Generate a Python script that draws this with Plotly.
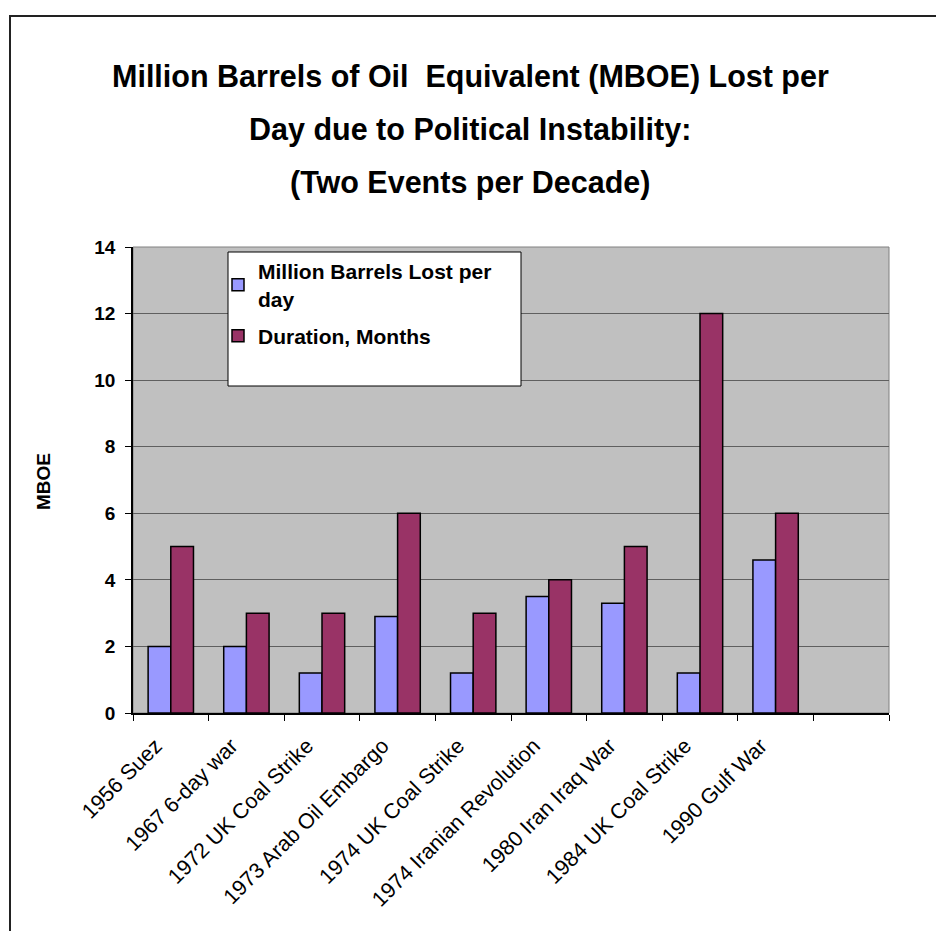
import plotly.graph_objects as go

# Disruption events and their impact
events = [
    "1956 Suez",
    "1967 6-day war",
    "1972 UK Coal Strike",
    "1973 Arab Oil Embargo",
    "1974 UK Coal Strike",
    "1974 Iranian Revolution",
    "1980 Iran Iraq War",
    "1984 UK Coal Strike",
    "1990 Gulf War",
]
barrels_lost = [2.0, 2.0, 1.2, 2.9, 1.2, 3.5, 3.3, 1.2, 4.6]
duration_months = [5, 3, 3, 6, 3, 4, 5, 12, 6]

# an empty trailing slot on the category axis
category_order = events + [" "]

FONT = "Liberation Sans, Arial, sans-serif"

fig = go.Figure()
fig.add_trace(go.Bar(
    x=events, y=barrels_lost,
    name="Million Barrels Lost per<br>day",
    legendgroup="barrels",
    marker=dict(color="#9999FF", line=dict(color="black", width=1.5)),
))
fig.add_trace(go.Bar(
    x=events, y=duration_months,
    name="Duration, Months",
    legendgroup="duration",
    marker=dict(color="#993366", line=dict(color="black", width=1.5)),
))

# plot-area geometry in pixels (used to convert to paper coordinates)
PL, PR, PT, PB = 133, 889, 247, 713
def px(x):
    return (x - PL) / (PR - PL)
def py(y):
    return (PB - y) / (PB - PT)

shapes = [
    # outer frame
    dict(type="rect", xref="paper", yref="paper",
         x0=px(10), x1=px(945), y0=py(16), y1=py(945),
         line=dict(color="#222222", width=2), fillcolor="rgba(0,0,0,0)", layer="below"),
    # plot area border
    dict(type="rect", xref="paper", yref="paper", x0=0, x1=1, y0=0, y1=1,
         line=dict(color="#808080", width=1), fillcolor="rgba(0,0,0,0)", layer="below"),
    # legend box
    dict(type="rect", xref="paper", yref="paper",
         x0=px(228), x1=px(521), y0=py(252), y1=py(386),
         line=dict(color="black", width=1), fillcolor="white", layer="above"),
]

title_lines = [
    "Million Barrels of Oil  Equivalent (MBOE) Lost per",
    "Day due to Political Instability:",
    "(Two Events per Decade)",
]
annotations = []
for line, yc in zip(title_lines, [77, 130, 183]):
    annotations.append(dict(
        text="<b>" + line + "</b>", xref="paper", yref="paper",
        x=px(470), y=py(yc), xanchor="center", yanchor="middle",
        showarrow=False, font=dict(family=FONT, size=30.5, color="black"),
    ))
annotations.append(dict(
    text="<b>MBOE</b>", xref="paper", yref="paper",
    x=px(43), y=py(482), xanchor="center", yanchor="middle", textangle=-90,
    showarrow=False, font=dict(family=FONT, size=19, color="black"),
))

fig.update_layout(
    width=936, height=931,
    margin=dict(l=PL, r=936 - PR, t=PT, b=931 - PB),
    paper_bgcolor="white",
    plot_bgcolor="#C0C0C0",
    barmode="group",
    bargap=0.4,
    bargroupgap=0,
    font=dict(family=FONT, color="black"),
    showlegend=True,
    legend=dict(
        x=px(218), y=py(251), xanchor="left", yanchor="top",
        bgcolor="rgba(0,0,0,0)", borderwidth=0,
        font=dict(family=FONT, size=21, color="black", weight="bold"),
        tracegroupgap=7, itemwidth=30,
    ),
    shapes=shapes,
    annotations=annotations,
)

fig.update_xaxes(
    type="category",
    categoryorder="array", categoryarray=category_order,
    range=[-0.5, 9.5],
    tickson="boundaries",
    ticks="outside", ticklen=6, tickcolor="black", tickwidth=1,
    showline=True, linecolor="black", linewidth=1.5,
    showgrid=False,
    tickangle=-45,
    ticklabelshift=-15,
    ticklabelstandoff=10,
    tickfont=dict(family=FONT, size=21.5, color="black"),
)
fig.update_yaxes(
    range=[0, 14], dtick=2,
    ticks="outside", ticklen=6, tickcolor="black", tickwidth=1,
    showline=True, linecolor="black", linewidth=1.5,
    showgrid=True, gridcolor="#5f5f5f", gridwidth=1,
    zeroline=False,
    ticklabelstandoff=6,
    tickfont=dict(family=FONT, size=19, color="black", weight="bold"),
)

fig.write_html("out.html")
